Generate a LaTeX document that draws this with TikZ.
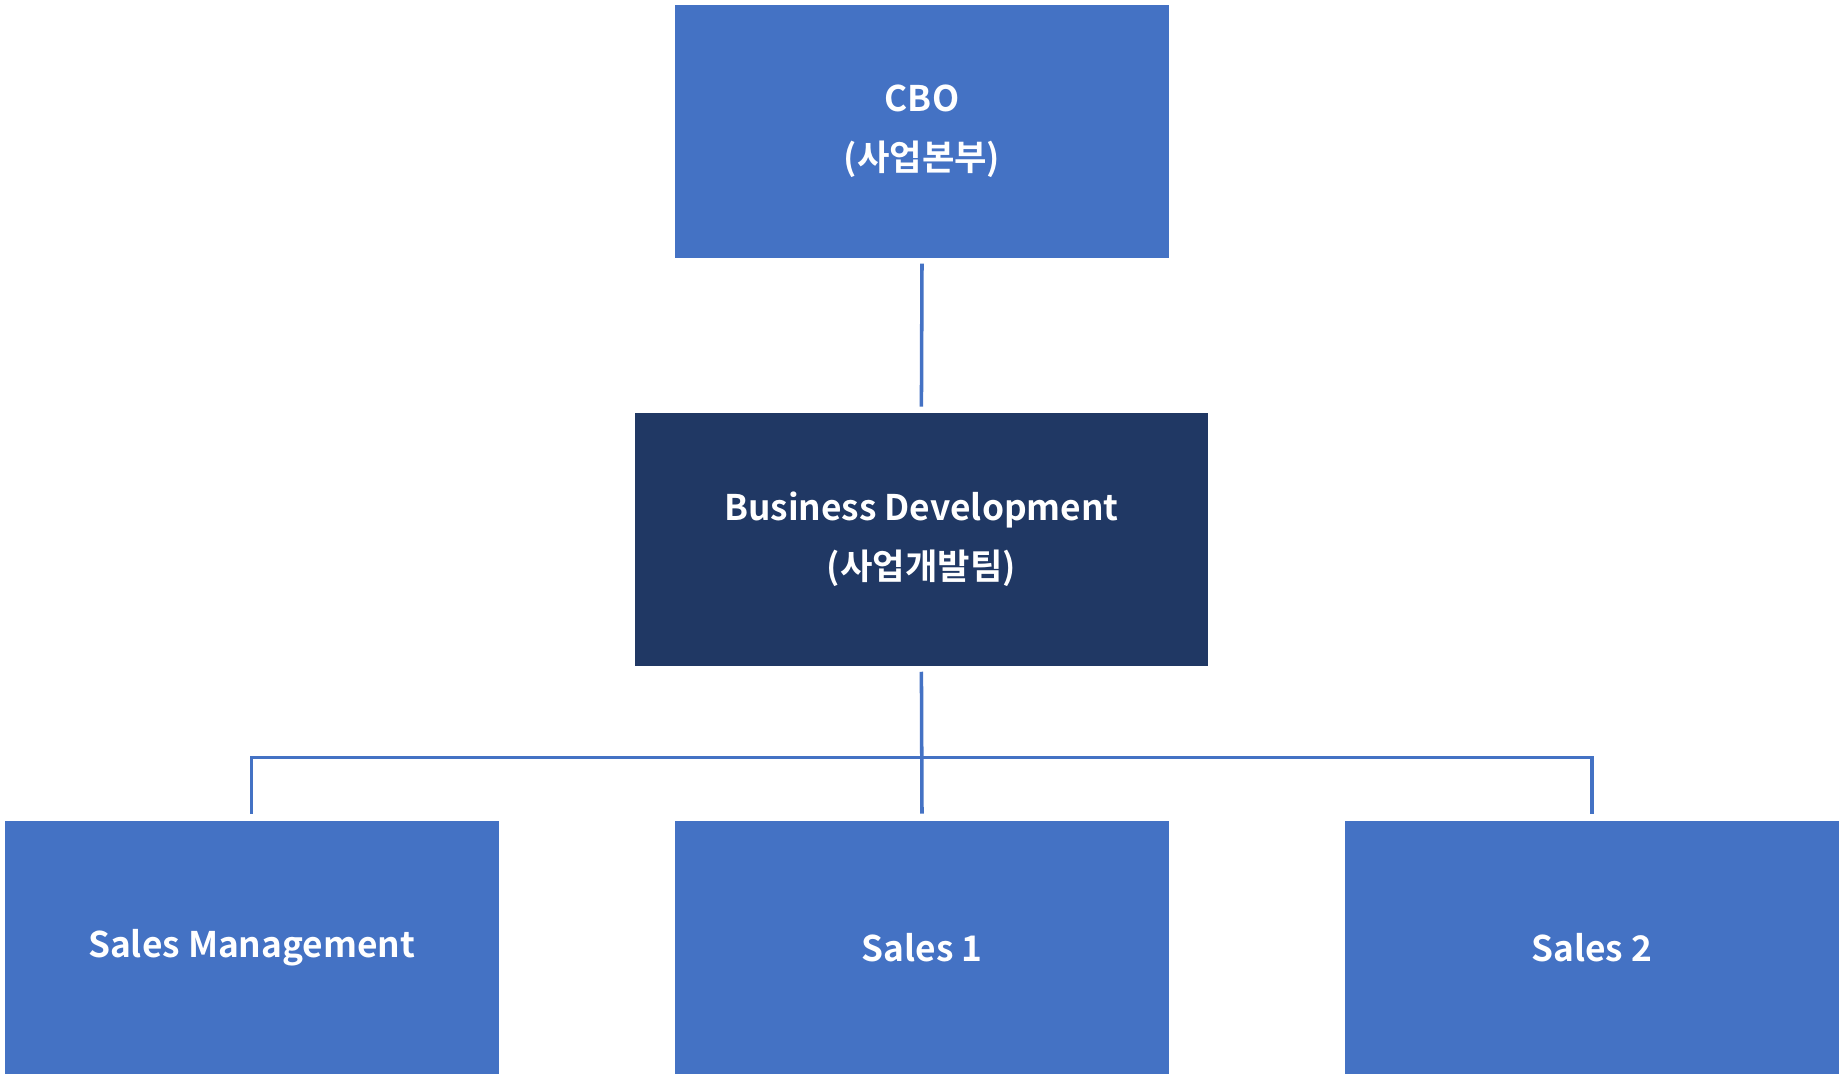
\documentclass[tikz,border=0pt]{standalone}
\usepackage{fontspec}
\setmainfont{Noto Sans CJK KR}[BoldFont={* Bold}]
\definecolor{boxblue}{HTML}{4472C4}
\definecolor{boxdark}{HTML}{203864}
\definecolor{linkblue}{HTML}{4472C4}
\begin{document}
\begin{tikzpicture}[x=1pt,y=-1pt,
  unit/.style={fill=boxblue,minimum width=420pt,minimum height=215pt,inner sep=0pt,text=white,font=\fontsize{30}{50}\selectfont\bfseries,align=center},
  link/.style={draw=linkblue,line width=3pt}]
\useasboundingbox (0,0) rectangle (1568,918);
\node[unit] (cbo) at (784,111.5) {CBO\\(사업본부)};
\node[unit,fill=boxdark,minimum width=487pt] (bd) at (783.5,458.5) {Business Development\\(사업개발팀)};
\node[unit] (sm) at (214,805.5) {Sales Management};
\node[unit] (s1) at (784,805.5) {Sales 1};
\node[unit] (s2) at (1353.5,805.5) {Sales 2};
\coordinate (j) at (784,644);
\draw[link] ([yshift=-5pt]cbo.south) -- ([yshift=5pt]bd.north);
\draw[link] ([yshift=-5pt]bd.south) -- ([yshift=6pt]s1.north);
\draw[link] ([yshift=6pt]sm.north) |- (j) -| ([yshift=6pt]s2.north);
\end{tikzpicture}
\end{document}
